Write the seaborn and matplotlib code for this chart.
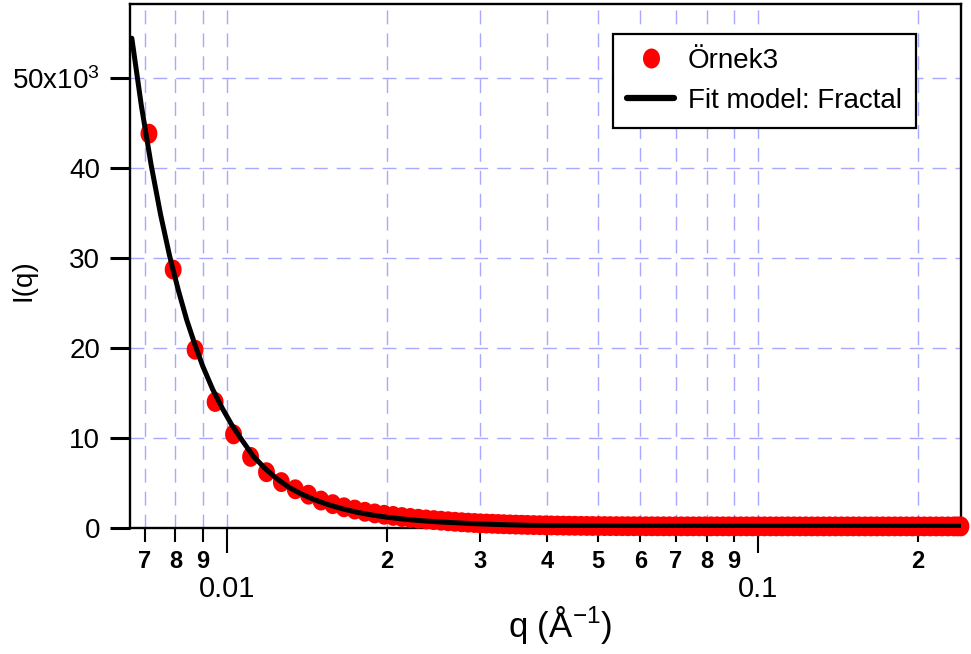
import numpy as np
import matplotlib
matplotlib.use("Agg")
import matplotlib.pyplot as plt
import seaborn as sns
from matplotlib.path import Path
from matplotlib.lines import Line2D
from matplotlib.ticker import FixedLocator, FixedFormatter
from matplotlib.font_manager import FontProperties

# ---------------- data ----------------
q_data = [
    0.00713, 0.00792, 0.00871, 0.00950, 0.01029, 0.01108, 0.01187, 0.01266, 0.01345, 0.01424,
    0.01503, 0.01582, 0.01661, 0.01740, 0.01819, 0.01898, 0.01977, 0.02056, 0.02135, 0.02214,
    0.02293, 0.02372, 0.02451, 0.02530, 0.02609, 0.02688, 0.02767, 0.02846, 0.02925,
    0.0300, 0.0308, 0.0316, 0.0324, 0.0332, 0.0341, 0.0350, 0.0359, 0.0368, 0.0378,
    0.0388, 0.0398, 0.0408, 0.0419, 0.0430, 0.0441, 0.0452, 0.0464, 0.0476, 0.0488,
    0.0501, 0.0514, 0.0527, 0.0541, 0.0555, 0.0569, 0.0584, 0.0599, 0.0615, 0.0631,
    0.0647, 0.0664, 0.0681, 0.0699, 0.0717, 0.0736, 0.0755, 0.0775, 0.0795, 0.0816,
    0.0837, 0.0859, 0.0881, 0.0904, 0.0928, 0.0952, 0.0977, 0.1002, 0.1028, 0.1055,
    0.1082, 0.1110, 0.1139, 0.1169, 0.1199, 0.1230, 0.1262, 0.1295, 0.1329, 0.1364,
    0.1399, 0.1436, 0.1473, 0.1511, 0.1550, 0.1591, 0.1632, 0.1674, 0.1718, 0.1763,
    0.1809, 0.1856, 0.1904, 0.1953, 0.2004, 0.2056, 0.2110, 0.2165, 0.2221, 0.2279,
    0.2338, 0.2375, 0.2410,
]
i_data = [
    43800, 28700, 19800, 14000, 10400, 7900, 6200, 5100, 4300, 3700,
    3050, 2650, 2300, 2050, 1800, 1620, 1470, 1340, 1220, 1120,
    1030, 950, 880, 810, 750, 690, 640, 595, 555,
    520, 495, 470, 445, 420, 398, 378, 360, 342, 326,
    312, 298, 286, 274, 263, 253, 244, 236, 229, 223,
    218, 213, 209, 205, 202, 199, 197, 195, 193, 191,
    190, 189, 188, 187, 186, 186, 185, 185, 184, 184,
    184, 183, 183, 183, 183, 182, 182, 182, 182, 182,
    181, 181, 181, 181, 181, 181, 180, 180, 180, 180,
    180, 180, 180, 180, 179, 179, 179, 179, 179, 179,
    179, 179, 178, 178, 178, 178, 178, 178, 178, 178,
    178, 178, 178,
]
q_fit = [
    0.00662, 0.0069, 0.0072, 0.0075, 0.0078, 0.0081, 0.0084, 0.0087, 0.0090, 0.0094,
    0.0098, 0.0102, 0.0107, 0.0112, 0.0118, 0.0124, 0.0131, 0.0138, 0.0146, 0.0155,
    0.0165, 0.0176, 0.0188, 0.0200, 0.0215, 0.0230, 0.0250, 0.0270, 0.0290, 0.0315,
    0.0340, 0.0370, 0.0400, 0.0440, 0.0490, 0.0550, 0.0630, 0.0750, 0.0900, 0.1100,
    0.1400, 0.1800, 0.2410,
]
i_fit = [
    54400, 46900, 40300, 34800, 30200, 26400, 23100, 20400, 18000, 15400,
    13300, 11500, 9670, 8000, 6600, 5500, 4500, 3780, 3150, 2600,
    2130, 1740, 1430, 1200, 990, 830, 680, 580, 490, 410,
    350, 300, 265, 240, 222, 210, 203, 199, 197, 196,
    195, 195, 195,
]

series_names = ["Örnek3", "Fit model: Fractal"]
y_ticks = [0, 10000, 20000, 30000, 40000, 50000]
y_tick_labels = ["0", "10", "20", "30", "40", "50x10$^{3}$"]
x_major = [0.01, 0.1]
x_major_labels = ["0.01", "0.1"]
x_minor = [0.007, 0.008, 0.009, 0.02, 0.03, 0.04, 0.05, 0.06, 0.07, 0.08, 0.09, 0.2]
x_minor_labels = ["7", "8", "9", "2", "3", "4", "5", "6", "7", "8", "9", "2"]
x_label = "q (Å$^{-1}$)"
y_label = "I(q)"

# ---------------- style ----------------
sns.set_style("white")
plt.rcParams["font.family"] = ["Liberation Sans", "DejaVu Sans"]
plt.rcParams["mathtext.default"] = "regular"
plt.rcParams["text.color"] = "black"
plt.rcParams["axes.labelcolor"] = "black"

W, H = 971, 654
fig = plt.figure(figsize=(W / 100, H / 100), dpi=100)
ax = fig.add_axes([130 / W, 1 - 528 / H, 831 / W, 524 / H])
ax.set_xscale("log")

# slightly tall elliptical marker like the reference
t = np.linspace(0, 2 * np.pi, 64)
ell = Path(np.column_stack([0.85 * np.cos(t), np.sin(t)]), closed=True)

sns.scatterplot(x=q_data, y=i_data, ax=ax, color="#ff0000", marker=ell, s=205,
                edgecolor="none", linewidth=0, legend=False, clip_on=False, zorder=3)
sns.lineplot(x=q_fit, y=i_fit, ax=ax, color="black", linewidth=3.6, legend=False,
             errorbar=None, zorder=4)

ax.set_xlim(0.006568, 0.2411)
ax.set_ylim(0, 58200)

# grid
grid_kw = dict(color="#a8a8ff", linestyle=(0, (10, 6.5)), linewidth=1.0)
ax.set_axisbelow(True)
ax.xaxis.grid(True, which="both", **grid_kw)
ax.yaxis.grid(True, which="major", **grid_kw)

# ticks
ax.xaxis.set_major_locator(FixedLocator(x_major))
ax.xaxis.set_major_formatter(FixedFormatter(x_major_labels))
ax.xaxis.set_minor_locator(FixedLocator(x_minor))
ax.xaxis.set_minor_formatter(FixedFormatter(x_minor_labels))
ax.set_yticks(y_ticks)
ax.set_yticklabels(y_tick_labels)

ax.tick_params(axis="x", which="major", direction="out", length=18, width=1.5,
               pad=16, labelsize=21, colors="black", bottom=True, top=False)
ax.tick_params(axis="x", which="minor", direction="out", length=10, width=1.5,
               pad=6, labelsize=17, colors="black", bottom=True, top=False)
ax.tick_params(axis="y", which="major", direction="out", length=14.4, width=2.2,
               pad=7, labelsize=20, colors="black", left=True, right=False)
for lab in ax.xaxis.get_minorticklabels():
    lab.set_fontweight("bold")

for s in ax.spines.values():
    s.set_visible(True)
    s.set_color("black")
    s.set_linewidth(1.7)

# labels
ax.set_xlabel(x_label, fontsize=25, color="black")
ax.xaxis.set_label_coords(0.517, -0.145)
ax.set_ylabel(y_label, fontsize=20, color="black")
ax.yaxis.set_label_coords(-0.113, 0.473)

# legend
handles = [
    Line2D([], [], marker=ell, color="#ff0000", linestyle="none", markersize=14.4,
           markeredgewidth=0),
    Line2D([], [], color="black", linewidth=4.5),
]
leg = ax.legend(handles, series_names, loc="upper right",
                bbox_to_anchor=(916 / W, 1 - 34 / H), bbox_transform=fig.transFigure,
                prop=FontProperties(family=["Liberation Sans"], size=20),
                frameon=True, fancybox=False, framealpha=1, edgecolor="black",
                borderaxespad=0, borderpad=0.5, handlelength=1.7, handletextpad=0.5,
                labelspacing=0.5)
leg.get_frame().set_linewidth(1.6)
leg.set_zorder(10)
for txt in leg.get_texts():
    txt.set_color("black")

fig.savefig("out.png", dpi=100)
